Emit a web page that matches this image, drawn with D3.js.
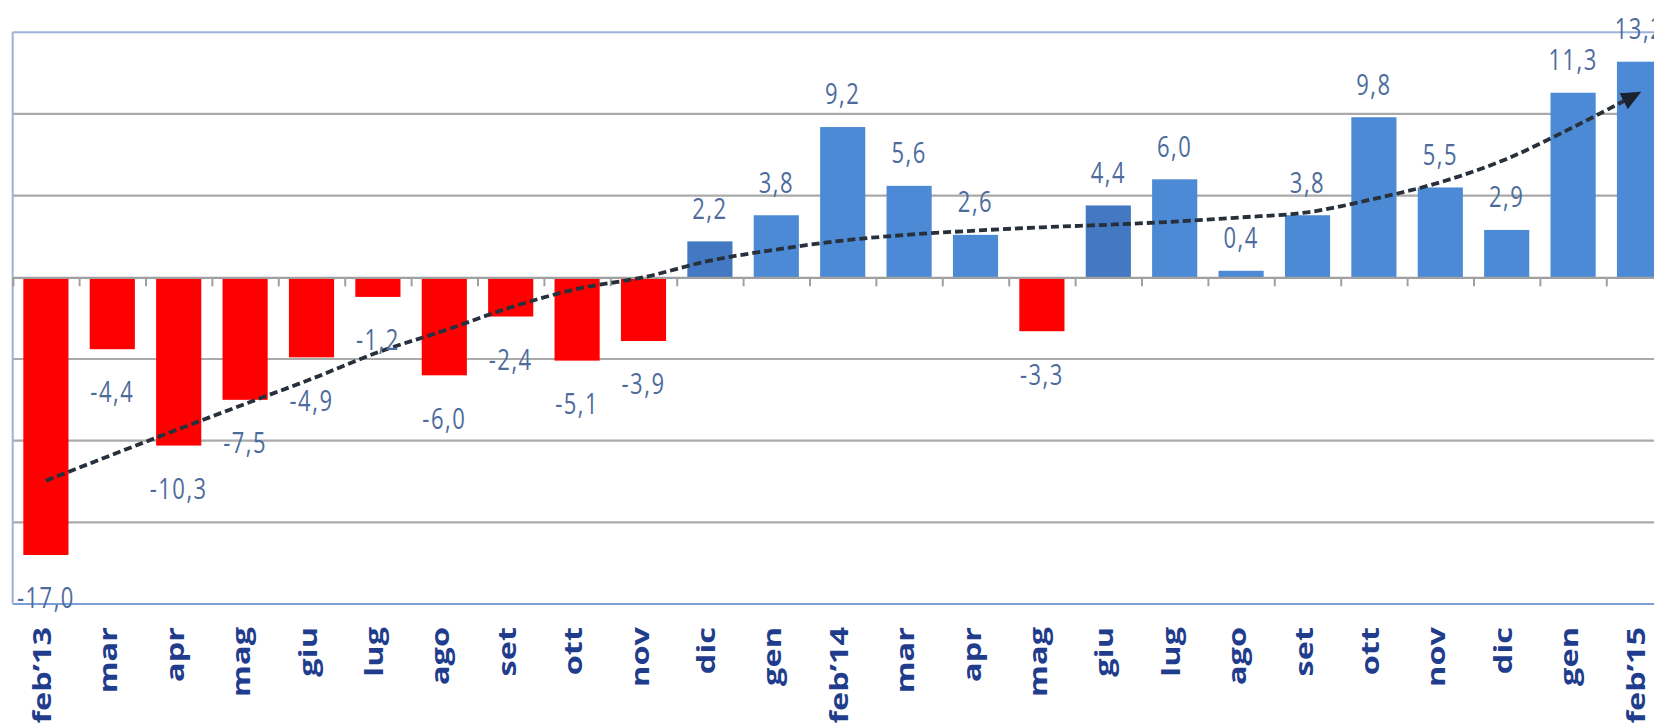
<!DOCTYPE html>
<html>
<head>
<meta charset="utf-8">
<script src="https://cdn.jsdelivr.net/npm/d3@7"></script>
<style>
    html, body { margin: 0; padding: 0; background: #fff; overflow: hidden; }
    svg { display: block; }
</style>
</head>
<body>
<div id="chart"></div>
<script>
const months = ["feb’13", "mar", "apr", "mag", "giu", "lug", "ago", "set", "ott", "nov", "dic", "gen",
                "feb’14", "mar", "apr", "mag", "giu", "lug", "ago", "set", "ott", "nov", "dic", "gen", "feb’15"];
const values = [-17.0, -4.4, -10.3, -7.5, -4.9, -1.2, -6.0, -2.4, -5.1, -3.9, 2.2, 3.8,
                9.2, 5.6, 2.6, -3.3, 4.4, 6.0, 0.4, 3.8, 9.8, 5.5, 2.9, 11.3, 13.2];
const trend = [-12.45, -10.86, -9.29, -7.75, -6.22, -4.59, -3.26, -1.84, -0.71, 0.0, 1.02, 1.70,
               2.25, 2.61, 2.86, 3.06, 3.22, 3.41, 3.67, 3.98, 4.8, 5.82, 7.25, 9.19, 11.3];
const darkBars = [10, 16];
const yTicks = [-20, -15, -10, -5, 0, 5, 10, 15];

const width = 1654;
const height = 728;
const left = 12.7;
const stretch = 1.3;

const it = d3.formatLocale({ decimal: ",", thousands: ".", grouping: [3], currency: ["€", ""], minus: "-" });
const fmt = it.format(".1f");

const svg = d3.select("#chart")
    .append("svg")
        .attr("width", width)
        .attr("height", height);

const x = d3.scaleBand()
    .domain(d3.range(months.length))
    .range([left, left + 66.4 * months.length])
    .paddingInner(0.32)
    .paddingOuter(0.16);

const xb = d3.scaleLinear()
    .domain([0, months.length])
    .range(x.range());

const y = d3.scaleLinear()
    .domain([d3.min(yTicks), d3.max(yTicks)])
    .range([604, 32.3]);

// grid
svg.append("g")
    .selectAll("line")
    .data(yTicks.filter(t => t !== 0 && t !== d3.min(yTicks) && t !== d3.max(yTicks)))
    .enter()
        .append("line")
        .attr("x1", left)
        .attr("x2", width + 20)
        .attr("y1", d => y(d))
        .attr("y2", d => y(d))
        .attr("stroke", "#aaaaaa")
        .attr("stroke-width", 2.2);

// plot frame
svg.append("line")
    .attr("x1", left).attr("x2", width + 20)
    .attr("y1", y(d3.max(yTicks))).attr("y2", y(d3.max(yTicks)))
    .attr("stroke", "#9cb2d8").attr("stroke-width", 2);
svg.append("line")
    .attr("x1", left).attr("x2", width + 20)
    .attr("y1", y(d3.min(yTicks))).attr("y2", y(d3.min(yTicks)))
    .attr("stroke", "#7c9ed8").attr("stroke-width", 2);
svg.append("line")
    .attr("x1", left).attr("x2", left)
    .attr("y1", y(d3.max(yTicks))).attr("y2", y(d3.min(yTicks)))
    .attr("stroke", "#9cb2d8").attr("stroke-width", 2);

// bars
svg.append("g")
    .selectAll("rect")
    .data(values)
    .enter()
        .append("rect")
        .attr("x", (d, i) => x(i))
        .attr("width", x.bandwidth())
        .attr("y", d => y(Math.max(0, d)))
        .attr("height", d => Math.abs(y(d) - y(0)))
        .attr("fill", (d, i) => d < 0 ? "#ff0000" : (darkBars.includes(i) ? "#4378c2" : "#4d8ad6"));

// zero axis with ticks between categories
svg.append("g")
    .attr("transform", `translate(0,${y(0)})`)
    .call(d3.axisBottom(xb).tickValues(d3.range(0, months.length + 1)).tickSize(9).tickFormat(""))
    .call(g => g.select(".domain").attr("stroke", "#a0a0a0").attr("stroke-width", 2.2))
    .call(g => g.selectAll(".tick line").attr("stroke", "#a0a0a0").attr("stroke-width", 2));

// category labels
svg.append("g")
    .attr("transform", `translate(0,${y(d3.min(yTicks))})`)
    .call(d3.axisBottom(x).tickSize(0).tickFormat(i => months[i]))
    .call(g => g.select(".domain").remove())
    .selectAll("text")
        .attr("transform", `translate(0,23) scale(1,${stretch}) rotate(-90)`)
        .attr("x", 0)
        .attr("y", 0)
        .attr("dy", "0.2em")
        .attr("text-anchor", "end")
        .attr("font-family", "'Open Sans', sans-serif")
        .attr("font-weight", 700)
        .attr("font-size", 25)
        .attr("fill", "#1f3d8c");

// trend line
svg.append("defs")
    .append("marker")
        .attr("id", "arrow")
        .attr("viewBox", "0 -9 20 18")
        .attr("refX", 18)
        .attr("refY", 0)
        .attr("markerUnits", "userSpaceOnUse")
        .attr("markerWidth", 20)
        .attr("markerHeight", 18)
        .attr("orient", "auto")
    .append("path")
        .attr("d", "M0,-9L20,0L0,9Z")
        .attr("fill", "#1a232d");

const line = d3.line()
    .x((d, i) => x(i) + x.bandwidth() / 2)
    .y(d => y(d))
    .curve(d3.curveMonotoneX);

svg.append("path")
    .datum(trend)
    .attr("d", line)
    .attr("fill", "none")
    .attr("stroke", "#27303b")
    .attr("stroke-width", 3.8)
    .attr("stroke-dasharray", "8,4")
    .attr("marker-end", "url(#arrow)");

// data labels
svg.append("g")
    .selectAll("text")
    .data(values)
    .enter()
        .append("text")
        .attr("transform", (d, i) => `translate(${x(i) + x.bandwidth() / 2},${d < 0 ? y(d) + 43 : y(d) - 33}) scale(1,${stretch})`)
        .attr("dy", "0.36em")
        .attr("text-anchor", "middle")
        .attr("font-family", "'Open Sans', sans-serif")
        .attr("font-size", 22)
        .attr("letter-spacing", 1.5)
        .attr("fill", "#4d6c9c")
        .text(d => fmt(d));
</script>
</body>
</html>
